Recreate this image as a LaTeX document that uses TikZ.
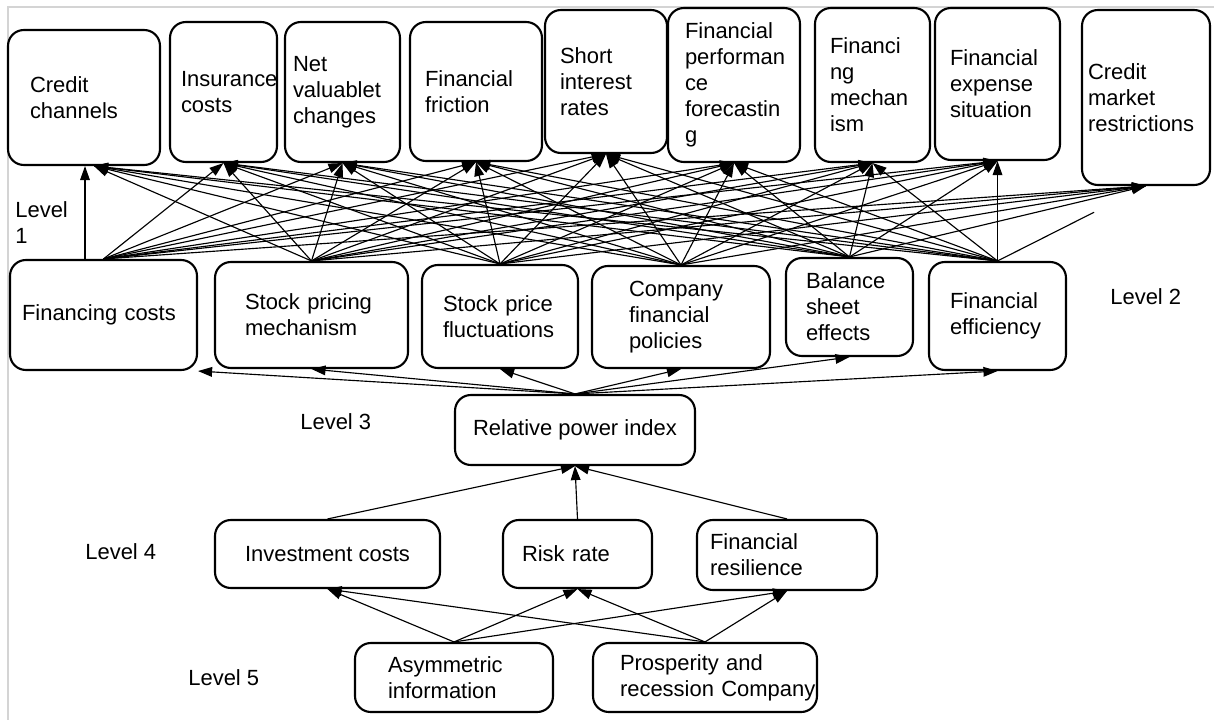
\documentclass[tikz,border=0pt]{standalone}
\usepackage{fontspec}
\setmainfont{Liberation Sans}
\usetikzlibrary{arrows.meta, calc}
\definecolor{framegray}{HTML}{D4D4D4}
\hyphenpenalty=10000
\exhyphenpenalty=10000

\begin{document}
\begin{tikzpicture}[x=0.02cm, y=-0.02cm, >={Triangle[length=8pt, width=5.5pt]},
  box/.style={draw, line width=1.2pt, rounded corners=9pt, align=left, inner sep=0pt,
    font=\fontsize{12.5}{14.8}\selectfont},
  lvl/.style={anchor=west, align=left, inner sep=0pt, font=\fontsize{12.5}{14.8}\selectfont},
  link/.style={->, line width=0.65pt}]

% Page and frame
\useasboundingbox (0,0) rectangle (1214,720);
\draw[framegray, line width=0.8pt] (8,720) -- (8,7) -- (1214,7);

% Level 1
\node[box, minimum width=3.04cm, minimum height=2.70cm, text width=2.16cm] (cc)  at (84,97.5)   {Credit\\channels};
\node[box, minimum width=2.14cm, minimum height=2.80cm, text width=1.70cm] (ic)  at (223.5,92)  {Insurance\\costs};
\node[box, minimum width=2.30cm, minimum height=2.80cm, text width=1.98cm] (nv)  at (342.5,92)  {Net\\valuablet\\changes};
\node[box, minimum width=2.64cm, minimum height=2.78cm, text width=2.04cm] (ff)  at (476,91.5)  {Financial\\friction};
\node[box, minimum width=2.44cm, minimum height=2.86cm, text width=1.84cm] (sir) at (606,81.5)  {Short\\interest\\rates};
\node[box, minimum width=2.64cm, minimum height=3.08cm, text width=1.96cm] (fpf) at (734,85)    {Financial\\performan\\ce\\forecastin\\g};
\node[box, minimum width=2.30cm, minimum height=3.08cm, text width=1.70cm] (fm)  at (872.5,85)  {Financi\\ng\\mechan\\ism};
\node[box, minimum width=2.50cm, minimum height=3.04cm, text width=1.90cm] (fes) at (997.5,84)  {Financial\\expense\\situation};
\node[box, minimum width=2.56cm, minimum height=3.50cm, text width=2.32cm] (cmr) at (1146,97.5) {Credit\\market\\restrictions};

% Level 2
\node[box, minimum width=3.74cm, minimum height=2.20cm, text width=3.26cm] (fc)  at (103.5,315) {Financing~costs};
\node[box, minimum width=3.86cm, minimum height=2.12cm, text width=2.66cm] (spm) at (311.5,315) {Stock~pricing\\mechanism};
\node[box, minimum width=3.12cm, minimum height=2.06cm, text width=2.28cm] (spf) at (500,316.5) {Stock~price\\fluctuations};
\node[box, minimum width=3.56cm, minimum height=2.04cm, text width=2.08cm] (cfp) at (681,317)   {Company\\financial\\policies};
\node[box, minimum width=2.54cm, minimum height=1.96cm, text width=1.74cm] (bse) at (849.5,307) {Balance\\sheet\\effects};
\node[box, minimum width=2.74cm, minimum height=2.16cm, text width=1.90cm] (fe)  at (997.5,316) {Financial\\efficiency};

% Levels 3 to 5
\node[box, minimum width=4.80cm, minimum height=1.40cm] (rpi) at (575,430) {Relative power index};
\node[box, minimum width=4.50cm, minimum height=1.36cm] (inv) at (327.5,554) {Investment costs};
\node[box, minimum width=2.98cm, minimum height=1.36cm, text width=2.22cm] (risk) at (577.5,554) {Risk~rate};
\node[box, minimum width=3.60cm, minimum height=1.40cm, text width=3.08cm] (res)  at (787,555)   {Financial\\resilience};
\node[box, minimum width=3.96cm, minimum height=1.38cm, text width=2.64cm] (asym) at (454,677.5) {Asymmetric\\information};
\node[box, minimum width=4.48cm, minimum height=1.38cm, text width=3.40cm] (pros) at (705,677.5) {Prosperity~and\\recession~Company};

% Level labels
\node[lvl] (l1) at (15,223)   {Level\\1};
\node[lvl] (l2) at (1110,297) {Level 2};
\node[lvl] (l3) at (300,422)  {Level 3};
\node[lvl] (l4) at (85,552)   {Level 4};
\node[lvl] (l5) at (188,678)  {Level 5};

% Level 2 -> Level 1
\coordinate (fc-up) at (85,260);
\coordinate (cc-in) at ($(cc.south)+(10,0)$);
\coordinate (fe-cut) at ($(fe.north)!0.65!(cmr.south)$);
\draw[link] (fc-up) -- (cc.south -| fc-up);
\foreach \s in {spm,spf,cfp,bse,fe}
  \draw[link] (\s.north) -- (cc-in);
\foreach \s in {fc,spm,spf,cfp,bse,fe}
  \foreach \t in {ic,nv,ff,sir,fpf,fm,fes}
    \draw[link] (\s.north) -- (\t.south);
\foreach \s in {fc,spm,spf,cfp,bse}
  \draw[link] (\s.north) -- (cmr.south);
\draw[line width=0.65pt] (fe.north) -- (fe-cut);

% Level 3 -> Level 2
\draw[link] (rpi.north) -- (fc.south east);
\foreach \t in {spm,spf,cfp,bse,fe}
  \draw[link] (rpi.north) -- (\t.south);

% Level 4 -> Level 3
\foreach \s in {inv,risk,res}
  \draw[link] (\s.north) -- (rpi.south);

% Level 5 -> Level 4
\foreach \s in {asym,pros}
  \foreach \t in {inv,risk,res}
    \draw[link] (\s.north) -- (\t.south);

\end{tikzpicture}
\end{document}
